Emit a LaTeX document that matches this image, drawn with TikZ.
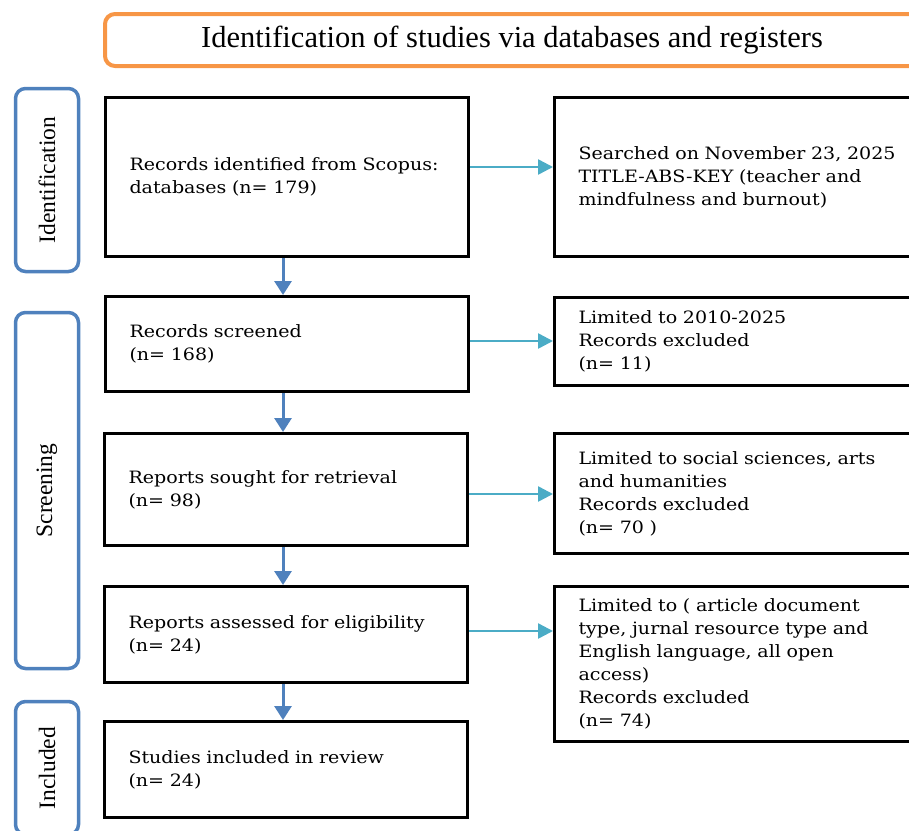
\documentclass[tikz,border=0pt]{standalone}
\usepackage{fontspec}
\setmainfont{DejaVu Serif}[FakeStretch=1.12]
\newfontfamily\headfont{Liberation Serif}
\usetikzlibrary{arrows.meta}
\definecolor{prismaorange}{HTML}{F79646}
\definecolor{prismablue}{HTML}{4F81BD}
\definecolor{prismacyan}{HTML}{4BACC6}

\begin{document}
\begin{tikzpicture}[x=1pt, y=-1pt,
  mainbox/.style={draw, line width=3pt, minimum width=363pt, text width=315pt,
    inner xsep=24pt, align=left, font=\fontsize{17}{23}\selectfont},
  sidebox/.style={draw, line width=3pt, minimum width=390pt, text width=342pt,
    inner xsep=24pt, align=left, font=\fontsize{17}{23}\selectfont},
  phasebox/.style={draw=prismablue, line width=3.5pt, rounded corners=10pt,
    rotate=90, minimum height=63pt, font=\headfont\fontsize{23.5}{25}\selectfont},
  downarrow/.style={draw=prismablue, line width=3pt, -{Triangle[length=14pt,width=17pt]}},
  sidearrow/.style={draw=prismacyan, line width=2.5pt, -{Triangle[length=15pt,width=15pt]}}]
  \useasboundingbox (0,0) rectangle (909,830);
  \clip (0,0) rectangle (909,830);

  % Titulo
  \node[draw=prismaorange, line width=4pt, rounded corners=10pt, minimum width=814pt,
    minimum height=52pt, font=\headfont\fontsize{30.5}{32}\selectfont] (head) at (512,40)
    {Identification of studies via databases and registers};

  % Fases
  \node[phasebox, minimum width=183pt] (pid) at (47,180) {Identification};
  \node[phasebox, minimum width=356pt] (psc) at (47,490.5) {Screening};
  \node[phasebox, minimum width=133pt] (pin) at (47,768) {Included};

  % Caixas principais
  \node[mainbox, minimum height=159pt] (m1) at (287,177)
    {Records identified from Scopus:\\databases (n= 179)};
  \node[mainbox, minimum height=95pt] (m2) at (287,344)
    {Records screened\\(n= 168)};
  \node[mainbox, minimum height=112pt] (m3) at (286,489.5)
    {Reports sought for retrieval\\(n= 98)};
  \node[mainbox, minimum height=96pt] (m4) at (286,634.5)
    {Reports assessed for eligibility\\(n= 24)};
  \node[mainbox, minimum height=96pt] (m5) at (286,769.5)
    {Studies included in review\\(n= 24)};

  % Caixas laterais
  \node[sidebox, minimum height=159pt] (r1) at (749.5,177)
    {Searched on November 23, 2025\\TITLE-ABS-KEY (teacher and\\mindfulness and burnout)};
  \node[sidebox, minimum height=88pt] (r2) at (749.5,341.5)
    {Limited to 2010-2025\\Records excluded\\(n= 11)};
  \node[sidebox, minimum height=120pt] (r3) at (749.5,493.5)
    {Limited to social sciences, arts\\and humanities\\Records excluded\\(n= 70 )};
  \node[sidebox, minimum height=155pt] (r4) at (749.5,664)
    {Limited to ( article document\\type, jurnal resource type and\\English language, all open\\access)\\Records excluded\\(n= 74)};

  % Setas verticais
  \draw[downarrow] ([xshift=-4pt]m1.south) -- ([xshift=-4pt]m2.north);
  \draw[downarrow] ([xshift=-4pt]m2.south) -- ([xshift=-3pt]m3.north);
  \draw[downarrow] ([xshift=-3pt]m3.south) -- ([xshift=-3pt]m4.north);
  \draw[downarrow] ([xshift=-3pt]m4.south) -- ([xshift=-3pt]m5.north);

  % Setas laterais
  \coordinate (s1) at ([yshift=10pt]m1.east);
  \coordinate (s2) at ([yshift=3pt]m2.east);
  \coordinate (s3) at ([yshift=-4.5pt]m3.east);
  \coordinate (s4) at ([yshift=3.5pt]m4.east);
  \draw[sidearrow] (s1) -- (s1 -| r1.west);
  \draw[sidearrow] (s2) -- (s2 -| r2.west);
  \draw[sidearrow] (s3) -- (s3 -| r3.west);
  \draw[sidearrow] (s4) -- (s4 -| r4.west);
\end{tikzpicture}
\end{document}
